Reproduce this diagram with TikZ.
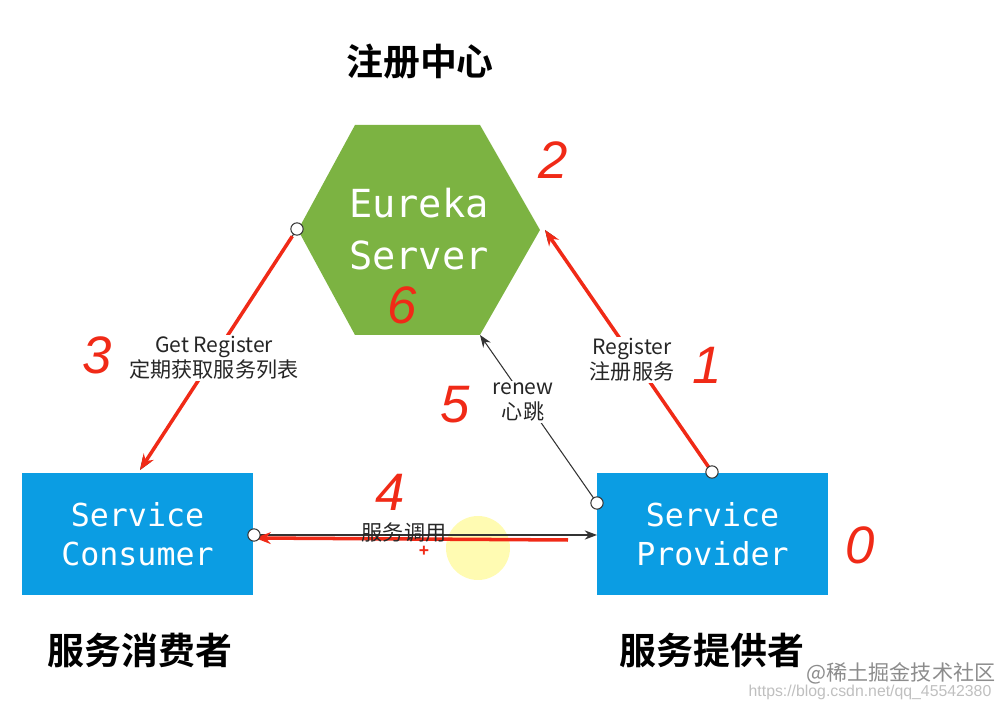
\documentclass[tikz,border=0pt]{standalone}
\usepackage{fontspec}
\setmainfont{Liberation Sans}
\newfontfamily\cjk{Noto Sans CJK SC}
\newfontfamily\cjkb{Noto Sans CJK SC Bold}
\newfontfamily\mono{DejaVu Sans Mono}
\usetikzlibrary{arrows.meta,calc}
\definecolor{eg}{HTML}{7CB342}
\definecolor{sb}{HTML}{0B9DE3}
\definecolor{rd}{HTML}{F02A17}
\begin{document}
\begin{tikzpicture}[x=0.02cm,y=-0.02cm,
 box/.style={fill=sb,draw=none,minimum width=231*0.02cm,minimum height=122*0.02cm,text=white,font=\mono\fontsize{18}{22}\selectfont,align=center},
 ttl/.style={font=\cjkb\fontsize{21}{24}\selectfont},
 lab/.style={font=\cjk\fontsize{12}{14}\selectfont,text=black!85,align=center,fill=white,inner sep=1pt},
 num/.style={text=rd,font=\itshape\fontsize{30}{30}\selectfont},
 thin/.style={draw=black!80,line width=0.6pt,-{Stealth[length=7pt]}},
 red/.style={draw=rd,line width=2pt,-{Stealth[length=9pt]}},
 dot/.style={circle,draw=black!80,fill=white,line width=0.6pt,inner sep=0pt,minimum size=7pt}]
\useasboundingbox (0,0) rectangle (1002,705);
\node[ttl] (t) at (420,62) {注册中心};
\fill[eg] (355,125) -- (480,125) -- (540,230) -- (480,335) -- (355,335) -- (298,230) -- cycle;
\node[text=white,font=\mono\fontsize{22}{30}\selectfont,align=center] (eu) at (419,229) {Eureka\\Server};
\node[box] (c) at (137.5,534) {Service\\Consumer};
\node[box] (p) at (712.5,534) {Service\\Provider};
\node[ttl] (cl) at (140,650) {服务消费者};
\node[ttl] (pl) at (712,650) {服务提供者};
\coordinate (a1) at (297,229); \coordinate (a2) at (140,470);
\coordinate (b1) at (712,472); \coordinate (b2) at (545,230);
\coordinate (r1) at (597,503); \coordinate (r2) at (480,335);
\coordinate (s1) at (254,535); \coordinate (s2) at (597,535);
\coordinate (q1) at (568,540); \coordinate (q2) at (255,538);
\draw[thin] (a1) -- (a2);
\draw[red] ($(a1)!0.03!(a2)$) -- (a2);
\draw[thin] (b1) -- (b2);
\draw[red] (b1) -- (b2);
\draw[thin] (r1) -- (r2);
\node[lab] (gl) at (214,358) {Get Register\\定期获取服务列表};
\node[lab] (rl) at (632,360) {Register\\注册服务};
\node[lab] (nl) at (523,402) {renew\\心跳};
\fill[yellow!60,opacity=0.5] (478,548) circle (32);
\draw[thin] (s1) -- (s2);
\draw[red] (q1) -- (q2);
\node[lab,fill=none] (sl) at (404,533) {服务调用};
\node[dot] at (a1) {}; \node[dot] at (b1) {}; \node[dot] at (r1) {}; \node[dot] at (s1) {};
\node[text=rd,font=\bfseries] (pl2) at (424,551) {+};
\node[num] (n2) at (553,160) {2};
\node[num] (n3) at (97,355) {3};
\node[num] (n6) at (402,305) {6};
\node[num] (n5) at (455,405) {5};
\node[num] (n1) at (707,365) {1};
\node[num] (n4) at (390,492) {4};
\node[num] (n0) at (860,545) {0};
\node[text=black!25,font=\fontsize{9}{10}\selectfont] (u) at (870,692) {https://blog.csdn.net/qq\_45542380};
\node[text=black!45,font=\cjk\fontsize{12}{14}\selectfont] (w) at (901,673) {@稀土掘金技术社区};
\end{tikzpicture}
\end{document}
